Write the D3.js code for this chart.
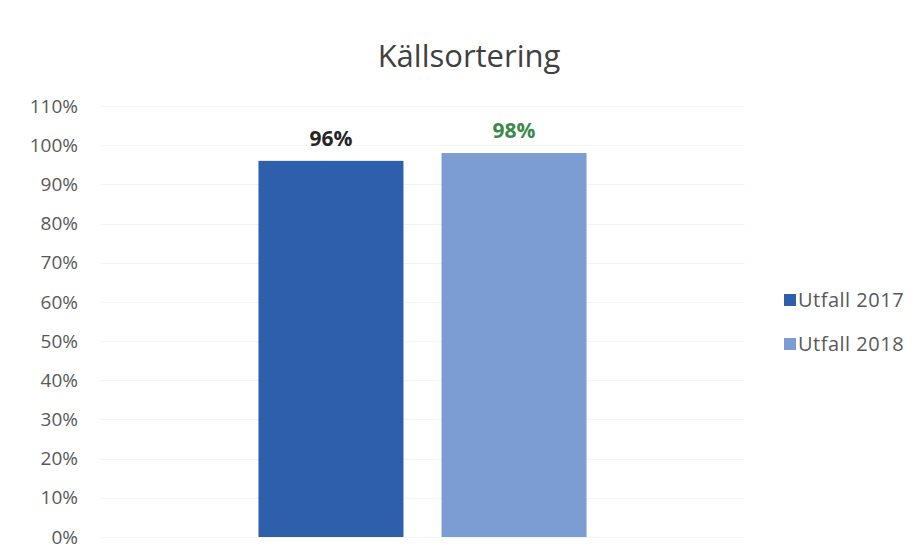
<!DOCTYPE html>
<html>
<head>
<meta charset="utf-8">
<script src="https://cdn.jsdelivr.net/npm/d3@7"></script>
<style>
  body { margin: 0; background: #fff; }
  svg { font-family: "Open Sans", "Noto Sans", sans-serif; }
</style>
</head>
<body>
<div id="chart"></div>
<script>
var categories = ['Källsortering'];
var series = ['Utfall 2017', 'Utfall 2018'];
var values = [0.96, 0.98];
var labelColors = ['#262626', '#3b8a4c'];
var barColors = ['#2e5fac', '#7b9dd4'];
var yTicks = [0, 0.1, 0.2, 0.3, 0.4, 0.5, 0.6, 0.7, 0.8, 0.9, 1.0, 1.1];

var width = 919, height = 560;
var margin = { top: 106, right: 174, bottom: 23, left: 100 };
var plot_width = width - margin.left - margin.right,
    plot_height = height - margin.top - margin.bottom;

var svg = d3.select('#chart')
    .append('svg')
    .attr('width', width)
    .attr('height', height);

svg.append('text')
    .attr('x', 469)
    .attr('y', 67)
    .attr('text-anchor', 'middle')
    .style('font-size', '31px')
    .style('fill', '#404040')
    .text(categories[0]);

var plot = svg.append('g')
    .attr('transform', `translate(${margin.left},${margin.top})`);

var y = d3.scaleLinear().domain([0, 1.1]).range([plot_height, 0]);
var x0 = d3.scaleBand().domain(categories).range([0, plot_width]).paddingInner(0).paddingOuter(0.483);
var x1 = d3.scaleBand().domain(series).range([0, x0.bandwidth()]).paddingInner(0.208);

// gridlines (faint)
plot.append('g')
    .selectAll('line')
    .data(yTicks)
    .enter().append('line')
    .attr('x1', 0)
    .attr('x2', plot_width)
    .attr('y1', function (d) { return Math.round(y(d)) + 0.5; })
    .attr('y2', function (d) { return Math.round(y(d)) + 0.5; })
    .attr('stroke', '#f4f4f4')
    .attr('stroke-width', 1);

var yAxis = d3.axisLeft(y)
    .tickValues(yTicks)
    .tickSize(0)
    .tickPadding(22)
    .tickFormat(d3.format('.0%'));

plot.append('g')
    .attr('class', 'y_axis')
    .call(yAxis)
    .call(function (g) { g.select('.domain').remove(); })
    .selectAll('text')
    .style('font-size', '19px')
    .style('fill', '#595959')
    .style('font-family', '"Open Sans", "Noto Sans", sans-serif');

var group = plot.append('g')
    .attr('transform', `translate(${x0(categories[0])},0)`);

group.selectAll('rect')
    .data(values)
    .enter().append('rect')
    .attr('x', function (d, i) { return x1(series[i]); })
    .attr('y', function (d) { return y(d); })
    .attr('width', x1.bandwidth())
    .attr('height', function (d) { return plot_height - y(d); })
    .attr('fill', function (d, i) { return barColors[i]; });

group.selectAll('.lbl')
    .data(values)
    .enter().append('text')
    .attr('class', 'lbl')
    .attr('x', function (d, i) { return x1(series[i]) + x1.bandwidth() / 2; })
    .attr('y', function (d) { return y(d) - 15; })
    .attr('text-anchor', 'middle')
    .style('font-size', '21px')
    .style('font-weight', 'bold')
    .style('fill', function (d, i) { return labelColors[i]; })
    .text(function (d) { return d3.format('.0%')(d); });

var legend = svg.append('g')
    .attr('transform', 'translate(784,300)');

var items = legend.selectAll('g')
    .data(series)
    .enter().append('g')
    .attr('transform', function (d, i) { return `translate(0,${i * 44})`; });

items.append('rect')
    .attr('x', 0)
    .attr('y', -6)
    .attr('width', 12)
    .attr('height', 12)
    .attr('fill', function (d, i) { return barColors[i]; });

items.append('text')
    .attr('x', 14)
    .attr('y', 0)
    .attr('dy', '0.35em')
    .style('font-size', '20px')
    .style('letter-spacing', '0.5px')
    .style('fill', '#595959')
    .text(function (d) { return d; });
</script>
</body>
</html>
